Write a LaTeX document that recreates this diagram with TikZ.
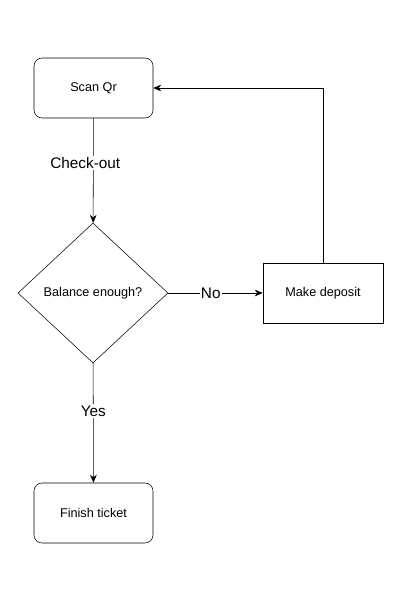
\documentclass[tikz,border=0pt]{standalone}
\usepackage{fontspec}
\setmainfont{Liberation Sans}
\usetikzlibrary{shapes.geometric,arrows.meta}
\tikzset{
    round-box/.style = {draw, thin, rectangle, rounded corners=6pt, minimum width=89.25pt, minimum height=45pt, font=\fontsize{9.5}{11}\selectfont},
    plain-box/.style = {draw, thin, rectangle, minimum width=90pt, minimum height=45pt, font=\fontsize{9.5}{11}\selectfont},
    choice/.style = {draw, thin, diamond, aspect=1.07, minimum width=112.5pt, minimum height=105pt, inner sep=0pt, font=\fontsize{9.5}{11}\selectfont},
    flow/.style = {draw, thin, -{Stealth[length=6pt,width=5pt]}},
    flow-label/.style = {fill=white, inner sep=1pt, font=\fontsize{11.5}{13}\selectfont},
}

\begin{document}
\begin{tikzpicture}[x=0.75pt, y=-0.75pt]
\useasboundingbox (0,0) rectangle (400,600);

\node [round-box] (scan) at (93.5,88) {Scan Qr};
\node [choice] (balance) at (93,293) {Balance enough?};
\node [plain-box] (deposit) at (323,293) {Make deposit};
\node [round-box] (finish) at (93.5,513) {Finish ticket};

\draw [flow] (scan) -- node[flow-label, pos=0.43, xshift=-6pt] {Check-out} (balance);
\draw [flow] (balance) -- node[flow-label, pos=0.45] {No} (deposit);
\draw [flow] (balance) -- node[flow-label, pos=0.4] {Yes} (finish);
\draw [flow] (deposit.north) |- (scan.east);
\end{tikzpicture}
\end{document}
